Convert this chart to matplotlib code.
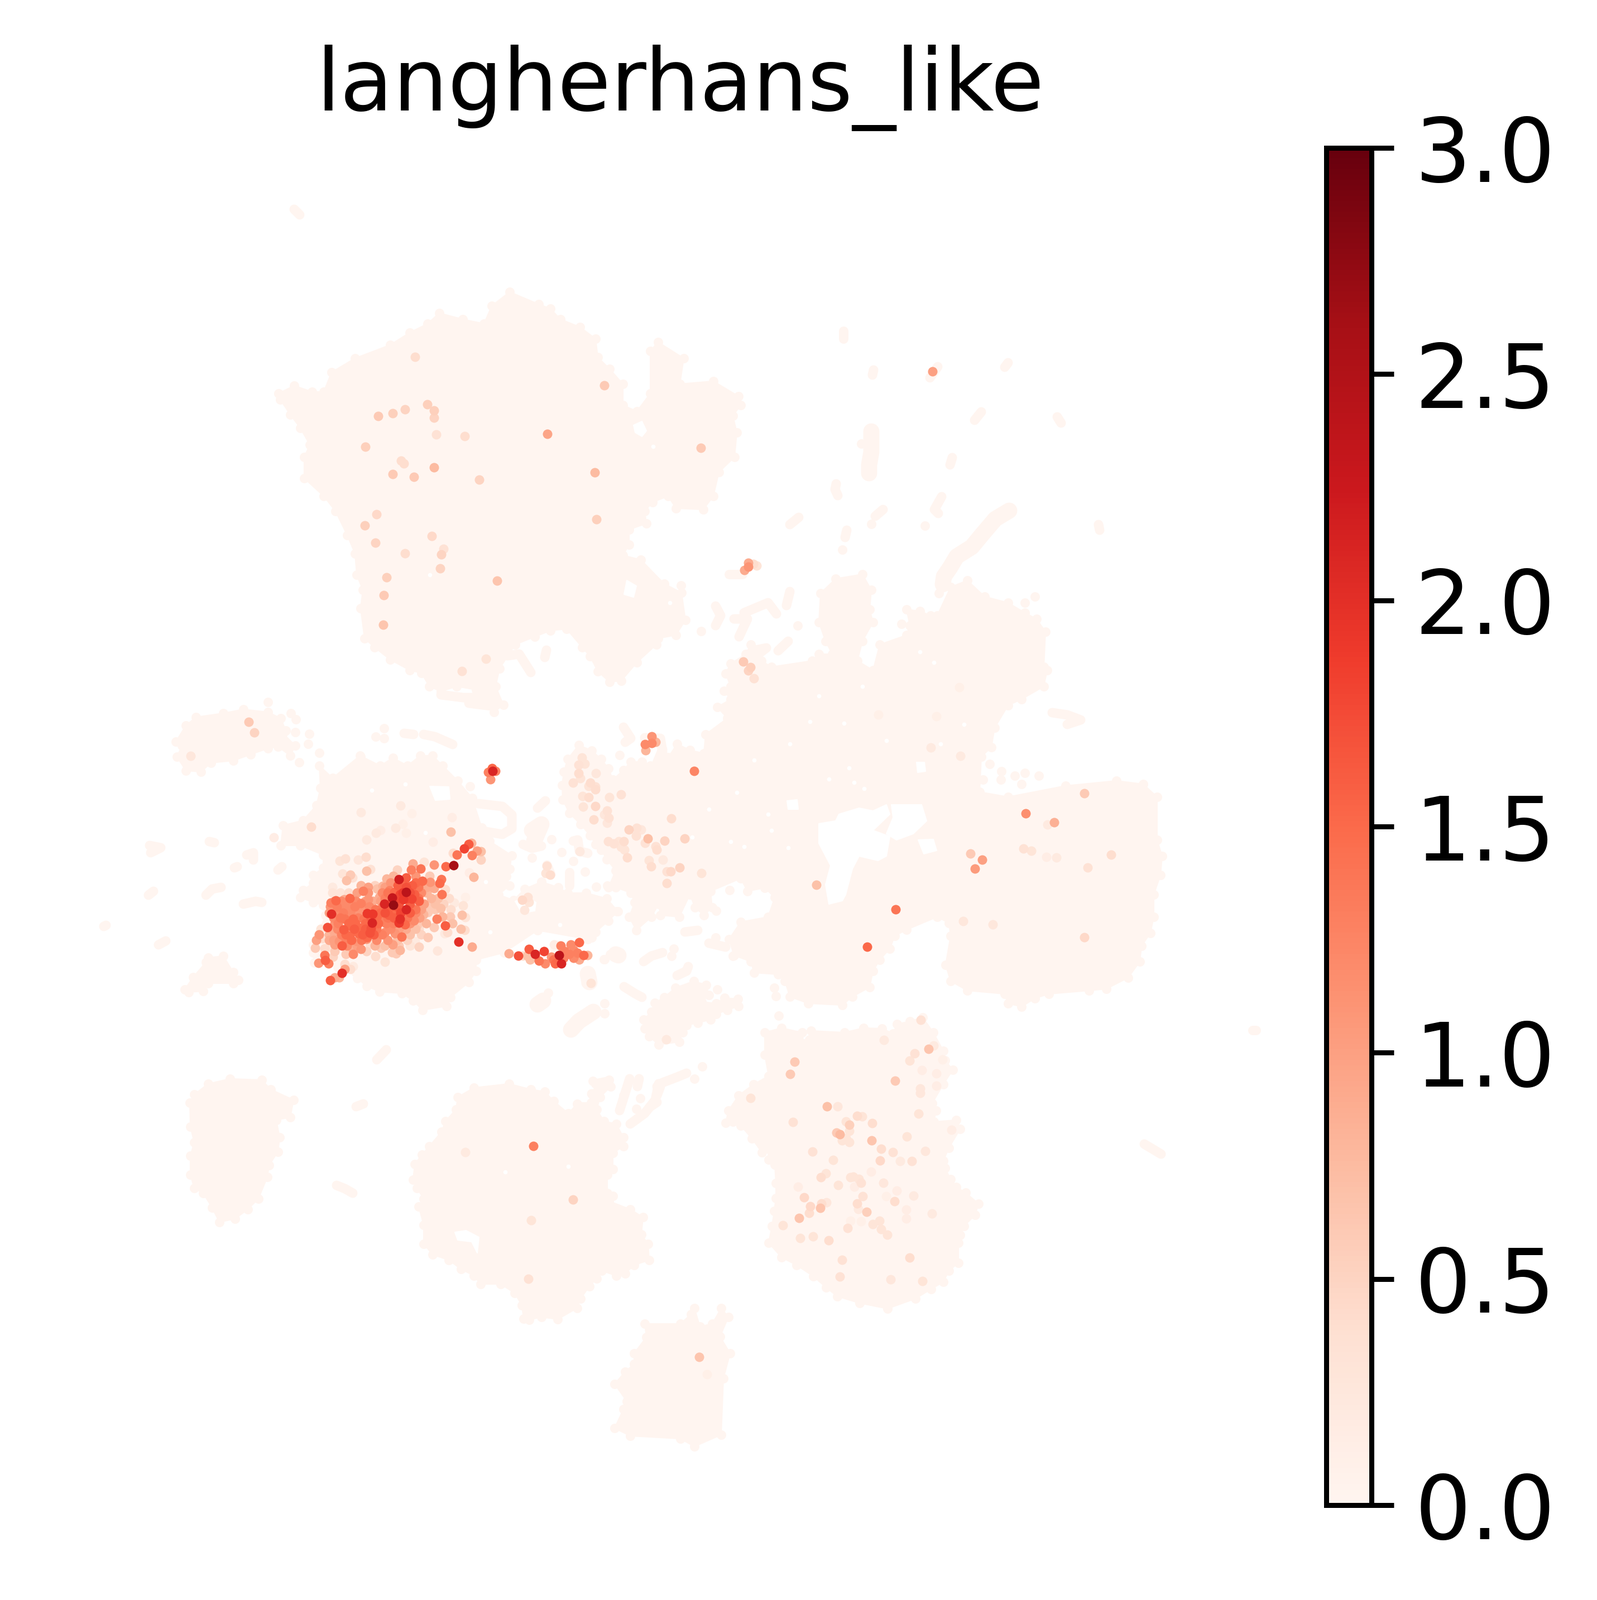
#!/usr/bin/env python3
"""Score UMAP for langherhans_like, rebuilt from traced outlines and hand-read cells.
All positions are read in image pixels of the 2862x2867 reference."""
import numpy as np
import matplotlib
matplotlib.use("Agg")
import matplotlib.pyplot as plt
from matplotlib.colors import Normalize
from matplotlib.cm import ScalarMappable

W, H = 2862, 2867
title = "langherhans_like"
cbar_ticks = [0.0, 0.5, 1.0, 1.5, 2.0, 2.5, 3.0]

# ── zero-score regions, outlines ──
blob_top = [(499,705),(527,691),(559,702),(580,702),(594,667),(636,642),(699,618),(734,596),(766,580),(787,561),
    (829,572),(867,580),(881,548),(913,523),(965,545),(986,553),(1004,572),(1039,586),(1067,607),(1071,640),
    (1092,661),(1116,688),(1116,726),(1141,737),(1165,705),(1165,629),(1179,613),(1225,642),(1218,688),(1278,683),
    (1323,710),(1327,726),(1313,745),(1320,775),(1316,819),(1288,846),(1278,889),(1260,913),(1211,911),(1197,889),
    (1169,900),(1155,916),(1158,938),(1127,949),(1127,976),(1116,995),(1148,1003),(1190,1046),(1221,1062),(1228,1111),
    (1211,1138),(1179,1144),(1176,1155),(1141,1187),(1113,1220),(1092,1222),(1071,1203),(1057,1176),(1043,1160),
    (1015,1127),(986,1130),(958,1141),(923,1155),(895,1198),(888,1230),(902,1263),(885,1276),(867,1252),(853,1236),
    (818,1230),(790,1239),(769,1230),(755,1206),(734,1201),(699,1182),(671,1160),(653,1144),(646,1090),(650,1057),
    (639,1030),(636,992),(622,959),(601,916),(580,889),(545,857),(545,819),(555,797),(538,767),(520,743),(502,716)]
blob_lower_left = [(348,1961),(373,1942),(412,1933),(469,1935),(485,1952),(526,1971),(520,2002),(495,2007),(501,2038),
    (498,2064),(482,2088),(479,2109),(463,2148),(444,2167),(421,2184),(393,2190),(380,2164),(364,2138),(348,2129),
    (341,2105),(341,2071),(348,2047),(341,2019),(340,1976)]
blob_lower_mid = [(820,1966),(849,1949),(912,1942),(951,1952),(976,1956),(992,1973),(1018,1995),(1034,1978),(1059,1976),
    (1069,1956),(1062,1937),(1091,1935),(1094,1947),(1075,1966),(1069,1988),(1082,2009),(1104,2014),(1117,2038),
    (1117,2054),(1098,2066),(1098,2095),(1088,2105),(1088,2138),(1098,2143),(1091,2152),(1129,2167),(1152,2181),
    (1149,2212),(1161,2229),(1163,2258),(1136,2267),(1120,2282),(1104,2286),(1078,2277),(1069,2291),(1056,2305),
    (1040,2327),(1034,2344),(999,2364),(970,2360),(948,2365),(938,2363),(935,2339),(922,2317),(897,2301),(861,2301),
    (849,2286),(826,2274),(804,2258),(775,2248),(759,2229),(759,2195),(750,2162),(759,2148),(747,2129),(740,2114),
    (743,2086),(756,2069),(769,2054),(791,2028),(798,2009),(817,1988)]
blob_lower_right = [(1300,2012),(1305,1990),(1323,1963),(1350,1943),(1377,1928),(1370,1890),(1370,1850),(1400,1842),
    (1437,1850),(1440,1870),(1450,1863),(1453,1847),(1513,1850),(1547,1842),(1580,1843),(1600,1852),(1607,1835),
    (1630,1830),(1653,1823),(1672,1850),(1690,1883),(1693,1900),(1707,1917),(1690,1943),(1670,1977),(1677,1990),
    (1673,2010),(1713,2007),(1720,2023),(1700,2057),(1690,2080),(1693,2093),(1703,2113),(1713,2127),(1730,2137),
    (1753,2157),(1747,2177),(1727,2197),(1720,2213),(1717,2227),(1717,2263),(1700,2277),(1690,2297),(1668,2310),
    (1640,2327),(1590,2345),(1540,2335),(1500,2323),(1480,2307),(1457,2287),(1427,2267),(1400,2253),(1377,2227),
    (1383,2197),(1387,2170),(1390,2147),(1390,2120),(1388,2087),(1377,2078),(1383,2067),(1365,2065),(1347,2040),
    (1327,2017),(1313,2010)]
blob_bottom = [(1155,2372),(1219,2372),(1238,2355),(1244,2344),(1254,2377),(1276,2372),(1292,2344),(1305,2360),(1290,2395),
    (1308,2425),(1296,2470),(1292,2571),(1244,2592),(1219,2578),(1129,2573),(1101,2559),(1117,2525),(1123,2511),
    (1101,2480),(1120,2458),(1136,2444),(1136,2425),(1158,2396)]
blob_center = [(1037,1335),(1060,1345),(1077,1360),(1090,1377),(1098,1397),(1117,1380),(1130,1365),(1150,1365),(1165,1372),
    (1197,1357),(1213,1333),(1236,1344),(1261,1350),(1264,1316),(1303,1287),(1285,1267),(1309,1253),(1297,1238),
    (1309,1230),(1300,1207),(1309,1189),(1336,1172),(1345,1155),(1364,1184),(1382,1195),(1455,1184),(1467,1172),
    (1491,1172),(1479,1149),(1467,1115),(1470,1063),(1497,1037),(1545,1029),(1561,1057),(1558,1092),(1564,1115),
    (1545,1149),(1536,1184),(1564,1201),(1576,1155),(1624,1138),(1630,1121),(1624,1092),(1648,1095),(1667,1103),
    (1679,1103),(1703,1052),(1733,1040),(1764,1069),(1806,1080),(1836,1098),(1857,1109),(1873,1132),(1870,1195),
    (1876,1201),(1870,1230),(1830,1253),(1806,1264),(1782,1304),(1776,1339),(1758,1356),(1755,1419),(1806,1428),
    (1909,1408),(2000,1399),(2048,1405),(2073,1428),(2073,1505),(2082,1534),(2079,1568),(2067,1603),(2067,1643),
    (2061,1672),(2045,1695),(2042,1723),(2021,1752),(1982,1772),(1951,1775),(1879,1781),(1854,1789),(1830,1804),
    (1806,1798),(1800,1781),(1733,1775),(1703,1758),(1694,1729),(1703,1677),(1700,1654),(1679,1643),(1624,1666),
    (1603,1677),(1594,1700),(1576,1720),(1564,1740),(1558,1769),(1527,1786),(1509,1801),(1448,1798),(1415,1786),
    (1406,1758),(1394,1746),(1351,1743),(1345,1723),(1315,1712),(1306,1683),(1327,1652),(1376,1643),(1388,1608),
    (1370,1591),(1339,1597),(1327,1574),(1273,1597),(1276,1626),(1261,1640),(1245,1626),(1236,1603),(1217,1643),
    (1183,1640),(1180,1620),(1167,1643),(1140,1667),(1127,1643),(1137,1617),(1130,1600),(1103,1590),(1090,1590),
    (1103,1560),(1087,1540),(1077,1523),(1067,1513),(1057,1497),(1040,1477),(1020,1457),(1008,1433),(1007,1407),
    (1010,1383),(1017,1360)]
blob_left = [(1107,1633),(1087,1610),(1050,1600),(1017,1600),(1000,1590),(970,1580),(940,1593),(920,1613),(893,1603),
    (913,1587),(907,1570),(913,1557),(917,1533),(877,1507),(863,1483),(846,1430),(820,1399),(793,1372),(775,1354),
    (753,1354),(730,1372),(704,1358),(681,1372),(645,1354),(596,1394),(572,1372),(574,1412),(567,1443),(543,1470),
    (507,1479),(503,1515),(538,1515),(579,1532),(579,1555),(561,1568),(561,1582),(543,1595),(538,1608),(561,1617),
    (579,1622),(583,1640),(570,1675),(561,1693),(561,1707),(563,1725),(605,1733),(637,1742),(640,1753),(657,1767),
    (680,1777),(720,1780),(740,1793),(757,1810),(800,1803),(807,1787),(840,1760),(853,1740),(853,1720),(903,1707),
    (963,1667),(1053,1683),(1060,1680),(1067,1670),(1090,1650)]
blob_upper_left = [(315,1329),(333,1300),(351,1285),(400,1278),(436,1271),(480,1276),(503,1287),(512,1309),(507,1314),
    (529,1336),(520,1354),(498,1338),(480,1341),(449,1352),(418,1363),(378,1367),(360,1383),(333,1381),(317,1356),(326,1336)]
blob_peak = [(373,1716),(400,1713),(418,1742),(427,1756),(418,1762),(373,1762),(364,1776),(338,1778),(331,1773),(346,1751),(369,1724)]
blob_small = [(1153,1827),(1167,1813),(1173,1797),(1190,1787),(1210,1770),(1243,1758),(1265,1765),(1270,1783),(1257,1795),
    (1283,1798),(1298,1788),(1322,1790),(1323,1803),(1303,1810),(1283,1817),(1273,1827),(1250,1833),(1230,1837),
    (1223,1850),(1217,1867),(1180,1872),(1163,1857),(1155,1843)]
outlines = [blob_top, blob_lower_left, blob_lower_mid, blob_lower_right, blob_bottom,
            blob_center, blob_left, blob_upper_left, blob_peak, blob_small]

# gaps inside the regions
gap_a = [(1467,1476),(1497,1471),(1503,1459),(1539,1448),(1564,1453),(1588,1442),(1594,1459),(1564,1488),(1594,1499),
    (1588,1534),(1573,1542),(1539,1534),(1527,1557),(1515,1603),(1509,1614),(1485,1620),(1479,1585),(1488,1551),(1467,1511)]
gap_b = [(1597,1442),(1651,1442),(1660,1471),(1636,1494),(1606,1505),(1588,1494),(1600,1465)]
gap_c = [(1645,1505),(1672,1504),(1678,1524),(1655,1530)]
gap_d = [(1410,1435),(1428,1433),(1430,1450),(1412,1450)]
gap_e = [(1642,1366),(1656,1366),(1658,1382),(1644,1384)]
gap_f = [(1123,1040),(1140,1050),(1135,1070),(1118,1065)]
gap_g = [(770,1409),(804,1410),(806,1432),(780,1434)]
gap_h = [(923,1615),(942,1608),(960,1617),(958,1632),(935,1636)]
gap_i = [(815,2208),(835,2205),(858,2217),(855,2245),(845,2225),(820,2222)]
gap_j = [(1135,762),(1150,755),(1158,772),(1150,782),(1138,775)]
gaps = [gap_a, gap_b, gap_c, gap_d, gap_e, gap_f, gap_g, gap_h, gap_i, gap_j]
pinholes = [(1648,1168),(1673,1187),(1451,1293),(1415,1333),(1521,1376),(1588,1327),(1485,1396),(1548,1413),(1530,1402),
    (1351,1362),(1376,1459),(1412,1519),(1382,1488),(1309,1508),(1333,1517),(1512,1296),(1467,1247),(1545,1230),(1685,1333),
    (1727,1298),(666,1416),(726,1405),(762,1492),(870,1580),(1003,1657),(878,1670),(1270,1350+100),(1320,1420),(1240,1500),
    (598,900-100+800),(705,1290-20),(905,2100),(1018,2090),(770,1030),(1200,1080),(1170,800)]

# ── small streaks of zero-score cells ──
streaks_thin = [[(527,375),(537,385)],[(724,1314),(741,1316)],[(759,1316),(779,1320),(811,1334)],[(268,1515),(288,1519),(270,1528)],
    [(375,1508),(384,1510)],[(442,1532),(454,1528),(454,1541)],[(420,1555),(425,1553)],[(498,1559),(505,1553)],
    [(266,1604),(275,1597)],[(369,1604),(380,1593),(396,1590)],[(436,1620),(458,1615),(469,1617)],[(186,1660),(190,1658)],
    [(284,1693),(297,1686)],[(675,1899),(692,1881)],[(638,1983),(651,1978)],[(603,2124),(618,2130),(632,2138)],
    [(1511,593),(1511,607)],[(1565,663),(1563,672)],[(1680,657),(1666,677)],[(1806,650),(1800,658)],[(1758,738),(1746,753)],
    [(1894,747),(1901,758)],[(1706,820),(1702,833)],[(1498,867),(1496,877),(1501,888)],[(1687,890),(1674,913),(1681,920)],
    [(1431,927),(1415,940)],[(1582,913),(1568,925)],[(1968,940),(1970,950)],[(1517,950),(1514,963)],
    [(2244,1846),(2250,1846)],[(2050,2050),(2080,2068)],[(1885,1277),(1912,1281),(1936,1290),(1912,1298)],
    [(1415,1060),(1409,1085)],[(1282,1086),(1291,1103),(1282,1121)],[(1306,1029),(1330,1029)],[(1333,1098),(1376,1080),(1391,1100)],
    [(1315,1109),(1339,1109),(1324,1141)],[(1348,1166),(1373,1161),(1336,1189)],[(1394,1166),(1412,1149)],
    [(1128,1933),(1110,1990)],[(1145,1933),(1142,1947)],[(1180,1942),(1174,1971),(1155,1995),(1129,2014)],
    [(1177,1947),(1187,1940),(1213,1930),(1230,1923)],[(1177,1963),(1183,1947)],[(1165,1983),(1177,1975)],
    [(1153,1723),(1167,1713),(1187,1707)],[(1093,1710),(1113,1710)],[(1213,1748),(1230,1740),(1233,1732)],
    [(1067,1942),(1087,1938)],[(1060,1960),(1067,1968)],[(1037,1983),(1063,1983)],[(1118,1768),(1137,1780),(1150,1787)],
    [(1053,1743),(1050,1762)],[(1227,1670),(1250,1667)],[(1270,1690),(1300,1697)],[(1020,1563),(1020,1587)],
    [(1027,1507),(1035,1505),(1038,1525),(1053,1529)],[(937,1513),(953,1520),(970,1516)],[(980,1550),(987,1567)],
    [(963,1448),(977,1435)],[(1177,1367),(1187,1343)],[(1155,1322),(1183,1323),(1187,1347)],[(1117,1303),(1130,1323),(1120,1330)],
    [(857,1440),(900,1445),(917,1460),(917,1485),(900,1495),(870,1490)],[(909,1175),(930,1172),(951,1205)],[(979,1165),(976,1178)],
    [(790,1245),(830,1250),(870,1250)],[(840,1260),(880,1265)]]
streaks_wide = [[(1561,773),(1561,810),(1557,833),(1557,848)],[(1808,915),(1783,930),(1760,957),(1741,980),(1714,997),(1702,1017),(1691,1033),(1689,1047)],
    [(1023,1845),(1037,1830),(1063,1813)],[(963,1800),(973,1793)],[(953,1488),(970,1477),(957,1507)],[(1103,1710),(1108,1712)],[(1000,1700),(1002,1702)],
    [(1053,1745),(1056,1760)]]

# ── single cells, (x, y, score) ──
cells_zero = [(480,1258),(521,1278),(530,1289),(529,1312),(554,1315),(552,1333),(572,1349),(536,1366),(688,1305),(673,1320),(688,1323),
    (646,1356),(1543,795),(1561,939),(1657,942),(1509,985),(1794,1382),(1793,1397),(1773,1369),(1761,1397),(1818,1390),(1836,1385),
    (1861,1390),(1830,1405),(1682,1063),(1854,1069),(1836,1080),(1615,1118),(1429,1121),(1256,1131),(1220,1049),(982,1779),
    (1083,1798),(1083,1816),(1083,1719),(1285,1773),(1258,1911),(1244,1933),(1147,1968),(1117,1963),(1128,1935),(1140,1987),
    (1387,1770),(1390,1785),(1395,1820),(1082,1719),(1203,1713),(1207,1700),(1282,1680),(1313,1713),(1307,1595),(1283,1632),
    (1048,1562),(1068,1589),(1088,1587),(1027,1543),(1105,1633),(1006,1527),(988,1504),(953,1537),(842,1409),(1110,1353),(1282,1373)]
cells_top = [(744,640,.4),(1083,691,.6),(678,746,.6),(704,741,.55),(726,734,.5),(766,725,.55),(778,736,.55),(778,749,.5),(782,779,.35),
    (833,782,.4),(981,778,.95),(655,801,.55),(1256,803,.6),(719,826,.4),(724,831,.4),(778,838,.75),(704,850,.6),(742,855,.6),(859,860,.5),
    (1066,847,.75),(675,922,.45),(654,942,.55),(1069,931,.55),(774,961,.45),(673,973,.5),(726,992,.4),(795,984,.35),(791,994,.5),(789,1019,.5),
    (693,1035,.55),(891,1041,.65),(688,1067,.6),(687,1120,.65),(871,1181,.3),(828,1203,.35),(1671,666,1.0),(446,1294,.6),(456,1313,.5),(342,1355,.25),(491,1501,.15)]
cells_right = [(1341,1016,1.1),(1334,1022,.9),(1341,1009,.9),(1350,1011,.4),(1356,1014,.3),(1332,1186,.6),(1345,1196,.55),(1341,1202,.5),(1351,1216,.35),
    (1244,1382,1.25),(1943,1422,.6),(1838,1458,1.15),(1889,1474,.85),(1877,1478,.2),(1739,1530,.6),(1760,1541,1.0),(1747,1557,1.05),(1834,1521,.35),
    (1848,1525,.3),(1875,1536,.15),(1893,1537,.2),(1991,1532,.4),(1949,1555,.35),(1605,1630,1.4),(1554,1697,1.5),(1726,1651,.25),(1779,1657,.25),
    (1943,1680,.45),(1463,1586,.7),(1719,1232,.1),(1668,1340,.2),(1721,1355,.2),(1678,1284,.1),(1574,1281,.1)]
cells_lower_right = [(1650,1828,.35),(1584,1864,.2),(1664,1880,.65),(1673,1874,.2),(1639,1888,.35),(1630,1901,.3),(1689,1899,.1),(1424,1903,.6),
    (1416,1925,.6),(1652,1918,.15),(1678,1924,.15),(1604,1937,.6),(1678,1946,.15),(1649,1951,.25),(1649,1959,.25),(1345,1968,.3),(1482,1983,.7),
    (1501,1983,.25),(1646,1996,.3),(1536,2000,.4),(1545,2001,.3),(1516,2010,.3),(1522,2016,.55),(1563,2013,.4),(1421,2011,.35),(1705,2025,.15),
    (1499,2030,.6),(1505,2033,.75),(1522,2027,.3),(1516,2040,.3),(1509,2044,.3),(1522,2047,.3),(1625,2037,.3),(1562,2044,.65),(1579,2059,.4),
    (1600,2065,.35),(1658,2063,.25),(1456,2064,.35),(1493,2079,.3),(1577,2080,.45),(1613,2081,.2),(1634,2081,.35),(1561,2100,.15),(1480,2103,.3),
    (1471,2110,.4),(1524,2110,.3),(1529,2109,.3),(1539,2113,.3),(1543,2120,.35),(1502,2124,.3),(1583,2120,.25),(1430,2127,.15),(1531,2127,.15),
    (1607,2134,.15),(1588,2144,.1),(1637,2143,.2),(1441,2146,.45),(1546,2144,.35),(1603,2153,.4),(1472,2157,.4),(1481,2155,.25),(1536,2157,.4),
    (1452,2162,.45),(1470,2165,.65),(1538,2167,.2),(1624,2168,.15),(1450,2174,.4),(1553,2172,.55),(1670,2175,.2),(1432,2183,.65),(1624,2184,.15),
    (1524,2188,.1),(1543,2189,.1),(1576,2188,.3),(1564,2194,.3),(1403,2196,.3),(1519,2201,.35),(1579,2203,.3),(1590,2213,.3),(1434,2219,.3),
    (1457,2216,.3),(1485,2223,.4),(1509,2258,.35),(1630,2254,.4),(1505,2288,.35),(1596,2293,.25),(1653,2296,.3)]
cells_lower_mid = [(834,2065,.2),(956,2054,1.3),(1027,2150,.5),(952,2187,.3),(947,2292,.35),(1253,2432,.65),(1267,2463,.1),(1194,1863,.2),(1059,1762,.3)]
cells_mid = [(883,1382,2.1),(882,1377,1.5),(875,1384,1.3),(888,1382,1.3),(879,1397,1.1),(1168,1320,1.1),(1156,1334,1.2),(1168,1332,1.2),(1175,1330,.8),(1157,1345,.8),
    (1043,1358,.3),(1048,1369,.3),(1037,1371,.35),(1037,1386,.4),(1040,1395,.3),(1027,1403,.35),(1068,1386,.25),(1058,1403,.4),(1055,1409,.3),(1067,1410,.35),
    (1067,1415,.4),(1044,1427,.3),(1055,1429,.4),(1045,1446,.3),(1067,1445,.45),(1092,1429,.3),(1113,1424,.35),(1088,1453,.35),(1091,1466,.35),(1083,1460,.25),
    (1064,1469,.4),(1088,1475,.25),(1203,1467,.4),(1127,1487,.5),(1141,1484,.35),(1149,1487,.25),(1140,1498,.35),(1161,1503,.7),(1156,1511,.35),(1191,1507,.5),
    (1175,1517,.35),(1177,1523,.4),(1227,1503,.5),(1090,1508,.35),(1100,1512,.35),(1109,1508,.3),(1118,1508,.4),(1113,1518,.3),(1119,1523,.3),(1124,1537,.4),
    (1163,1542,.3),(1167,1553,.4),(1188,1541,.2),(1218,1555,.5),(1195,1562,.35),(1202,1562,.45),(1195,1583,.4),(1257,1565,.3),(1039,1526,.2),(980,1552,.35),
    (978,1565,.3),(986,1568,.4),(936,1613,.45),(946,1608,.35),(948,1617,.3),(940,1631,.25)]
cells_tail = [(1038,1689,1.5),(1005,1695,1.3),(975,1705,1.8),(959,1710,2.1),(948,1701,1.6),(929,1713,1.7),(912,1709,.9),(1002,1712,2.4),(1006,1727,2.1),
    (1046,1712,1.5),(1023,1693,1.2),(1020,1710,1.3),(1035,1708,1.3),(1028,1717,1.2),(1053,1712,.8),(1038,1720,.9),(995,1727,1.5),(992,1720,1.4),(1010,1717,1.3),
    (977,1727,1.2),(966,1722,1.4),(950,1720,.7),(945,1713,.7),(937,1713,.4),(988,1715,1.1),(993,1693,.15),(1012,1705,1.3),(1028,1703,1.2),(1000,1722,1.3)]
cells_cluster = [(558,1482,.4),(647,1456,.2),(718,1444,.2),(738,1458,.1),(810,1465,.15),(808,1491,.7),(682,1488,.15),(674,1493,.2),(709,1484,.2),(722,1477,.1),
    (728,1493,.1),(657,1505,.2),(776,1509,.15),(840,1513,1.6),(832,1521,1.8),(845,1511,.8),(855,1525,1.0),(862,1526,.7),(812,1529,.4),(819,1532,1.4),(846,1533,1.3),
    (862,1541,.5),(813,1551,2.6),(799,1553,1.5),(778,1550,1.1),(754,1557,1.4),(740,1548,.9),(737,1559,1.3),(760,1545,.3),(712,1559,.5),(656,1536,.4),(642,1541,.25),
    (619,1539,.35),(609,1543,.3),(664,1558,.35),(657,1561,.7),(628,1568,.6),(621,1578,.7),(614,1566,.3),(632,1573,.35),(693,1575,.8),(715,1576,2.2),(728,1573,1.6),
    (757,1579,1.5),(771,1581,1.1),(791,1576,1.4),(788,1583,1.5),(849,1572,.8),(841,1564,.15),(647,1587,.8),(651,1597,1.3),(672,1587,.5),(686,1588,.8),(676,1593,.7),
    (698,1596,1.3),(713,1587,1.6),(739,1587,1.6),(728,1599,2.4),(717,1603,1.8),(707,1599,1.5),(743,1603,1.6),(738,1611,1.8),(723,1612,1.9),(703,1609,2.3),(689,1620,2.1),
    (705,1622,2.7),(751,1615,1.6),(728,1630,2.1),(778,1592,.9),(798,1594,.4),(792,1603,1.4),(773,1610,.8),(755,1593,.6),(627,1610,1.5),(602,1614,1.5),(593,1618,1.3),
    (617,1612,.9),(647,1619,1.3),(660,1612,1.1),(680,1608,.9),(594,1638,2.0),(607,1630,1.2),(623,1625,1.2),(673,1630,1.4),(668,1638,1.9),(658,1637,1.9),(707,1630,1.5),
    (697,1640,1.6),(770,1624,.6),(790,1628,.7),(808,1630,.4),(830,1623,.3),(814,1618,.2),(834,1608,.1),(759,1639,.8),(767,1635,.6),(828,1640,.7),(742,1650,1.2),
    (717,1647,2.0),(715,1654,1.9),(726,1657,1.5),(667,1654,2.1),(618,1647,1.4),(633,1647,1.5),(652,1647,1.4),(683,1650,1.3),(783,1647,1.3),(793,1643,.8),(807,1643,.6),
    (811,1655,.7),(798,1659,1.6),(834,1644,.3),(748,1657,.6),(587,1662,1.7),(628,1660,1.5),(645,1663,1.5),(616,1666,1.6),(665,1664,1.7),(640,1670,1.5),(778,1662,.6),
    (751,1665,.4),(690,1671,1.2),(708,1673,1.1),(663,1672,1.7),(826,1665,.7),(833,1667,.4),(802,1671,.4),(797,1673,.2),(572,1675,1.1),(567,1685,1.0),(578,1682,.4),
    (600,1675,.9),(608,1687,1.1),(627,1677,1.5),(643,1673,1.5),(658,1680,1.5),(677,1677,1.2),(720,1679,1.4),(767,1680,.6),(640,1687,1.1),(620,1683,1.3),(657,1683,1.1),
    (613,1695,1.6),(600,1693,1.0),(704,1693,1.0),(565,1699,.6),(590,1697,.3),(822,1688,2.0),(751,1697,.5),(744,1687,.2),(784,1704,.25),(846,1697,.9),(683,1699,.6),
    (663,1692,.4),(647,1701,1.1),(632,1700,.9),(657,1705,.5),(717,1703,.8),(703,1707,.6),(710,1709,.6),(620,1710,.6),(633,1710,1.2),(673,1714,.4),(582,1712,1.4),
    (597,1715,.5),(583,1721,1.6),(571,1726,1.1),(589,1727,1.3),(690,1724,.3),(618,1728,.4),(633,1732,.2),(618,1737,1.0),(628,1737,.4),(613,1744,2.0),(608,1752,.8),
    (600,1752,.9),(592,1757,1.6)]
# cells packed underneath the brightest ones in the two lobes
cells_cluster_under = [(600,1615,1.3),(612,1615,1.2),(625,1615,1.1),(638,1615,1.2),(655,1615,1.0),(668,1615,.9),(682,1615,1.0),(695,1615,1.2),
    (592,1625,1.1),(604,1625,1.3),(616,1625,1.2),(636,1625,1.3),(648,1625,1.1),(662,1625,1.2),(686,1625,1.4),(700,1625,1.6),(712,1625,1.7),
    (590,1636,1.0),(602,1636,1.2),(615,1636,1.3),(628,1636,1.2),(642,1636,1.1),(682,1636,1.5),(690,1636,1.7),(718,1636,1.8),(735,1636,1.6),(745,1636,1.2),
    (598,1645,1.2),(610,1645,1.4),(642,1645,1.3),(665,1645,1.6),(675,1645,1.5),(695,1645,1.4),(706,1645,1.6),(730,1645,1.4),(752,1645,1.0),
    (600,1655,1.1),(606,1655,1.3),(625,1655,1.5),(637,1655,1.5),(655,1655,1.5),(678,1655,1.5),(692,1655,1.3),(705,1655,1.3),(735,1655,1.1),(764,1655,.8),
    (595,1665,.9),(605,1665,1.2),(635,1665,1.6),(655,1665,1.6),(675,1665,1.4),(700,1665,1.2),(715,1665,1.0),(728,1665,.9),(745,1665,.7),
    (590,1675,.8),(612,1675,1.3),(620,1675,1.5),(650,1675,1.6),(670,1675,1.6),(685,1675,1.3),(735,1675,.7),(755,1675,.5),
    (590,1685,.9),(598,1685,1.0),(630,1685,1.5),(648,1685,1.4),(675,1685,1.2),(695,1685,1.1),(712,1685,.7),(730,1685,.5),
    (622,1695,1.2),(640,1695,1.0),(672,1695,.8),(690,1695,.7),(715,1695,.6),(735,1695,.3),
    (705,1570,.8),(745,1570,1.1),(770,1570,.6),(700,1582,1.1),(725,1582,1.5),(745,1582,1.5),
    (660,1590,1.0),(690,1590,1.0),(728,1590,1.7),(750,1590,1.4),(765,1590,.9),
    (640,1600,1.0),(660,1600,1.1),(685,1600,1.2),(695,1600,1.4),(722,1600,1.9),(735,1600,1.7),(755,1600,1.2),(765,1600,.8),
    (690,1610,1.3),(715,1610,1.8),(730,1610,1.8),(750,1610,1.4),(785,1610,.7),(805,1610,.4),
    (640,1620,1.1),(700,1620,1.6),(715,1620,1.7),(735,1620,1.6),(760,1620,1.0),(780,1620,.7),(795,1620,.5),
    (745,1630,1.4),(755,1630,1.0),(780,1630,.6),(596,1600,.3),(610,1600,.3),(625,1600,.4),(596,1590,.2),(575,1665,.3),(582,1700,.4),(600,1705,.6)]

scored = np.array(cells_top + cells_right + cells_lower_right + cells_lower_mid + cells_mid + cells_tail + cells_cluster + cells_cluster_under)
zero_xy = np.array(cells_zero)
holes_xy = np.array(pinholes)
# high scores on top
scored = scored[np.argsort(scored[:, 2])]

fig = plt.figure(figsize=(W / 300, H / 300), dpi=300, facecolor="white")
ax_l, ax_r, ax_t, ax_b = 70, 2368, 265, 2697
ax = fig.add_axes([ax_l / W, 1 - ax_b / H, (ax_r - ax_l) / W, (ax_b - ax_t) / H])
ax.set_xlim(ax_l, ax_r)
ax.set_ylim(ax_b, ax_t)
ax.axis("off")

norm = Normalize(0, 3)
cmap = plt.get_cmap("Reds")
base = cmap(0.0)
dot_pt = 17 * 72 / 300

for poly in outlines:
    xy = np.array(poly)
    ax.fill(xy[:, 0], xy[:, 1], facecolor=base, edgecolor=base, linewidth=0.5, joinstyle="round", zorder=1)
    # outline vertices are cells too, gives the lumpy edge
    ax.scatter(xy[:, 0], xy[:, 1], s=dot_pt ** 2, color=base, linewidths=0, zorder=1)
for poly in gaps:
    xy = np.array(poly)
    ax.fill(xy[:, 0], xy[:, 1], facecolor="white", edgecolor="white", linewidth=0.5, joinstyle="round", zorder=1.5)
ax.scatter(holes_xy[:, 0], holes_xy[:, 1], s=(dot_pt * 0.45) ** 2, color="white", linewidths=0, zorder=1.5)
for line in streaks_thin:
    xy = np.array(line)
    ax.plot(xy[:, 0], xy[:, 1], color=base, lw=dot_pt, solid_capstyle="round", solid_joinstyle="round", zorder=1)
for line in streaks_wide:
    xy = np.array(line)
    ax.plot(xy[:, 0], xy[:, 1], color=base, lw=dot_pt * 1.7, solid_capstyle="round", solid_joinstyle="round", zorder=1)

ax.scatter(zero_xy[:, 0], zero_xy[:, 1], s=dot_pt ** 2, color=base, linewidths=0, zorder=2)
ax.scatter(scored[:, 0], scored[:, 1], c=scored[:, 2], cmap=cmap, norm=norm, s=dot_pt ** 2, linewidths=0, zorder=3)

fig.text(1219 / W, 1 - 198 / H, title, ha="center", va="baseline", fontsize=37.2, color="black")

# colorbar
cb_l, cb_r = 2376.5, 2457.5
cax = fig.add_axes([cb_l / W, 1 - ax_b / H, (cb_r - cb_l) / W, (ax_b - ax_t) / H])
cb = fig.colorbar(ScalarMappable(norm=norm, cmap=cmap), cax=cax, ticks=cbar_ticks)
cb.outline.set_linewidth(2.16)
cb.ax.tick_params(length=9.5, width=2.16, labelsize=38, pad=9)
cb.ax.set_yticklabels([f"{t:.1f}" for t in cbar_ticks])

fig.savefig("out.png", dpi=300, facecolor="white")
plt.close(fig)
